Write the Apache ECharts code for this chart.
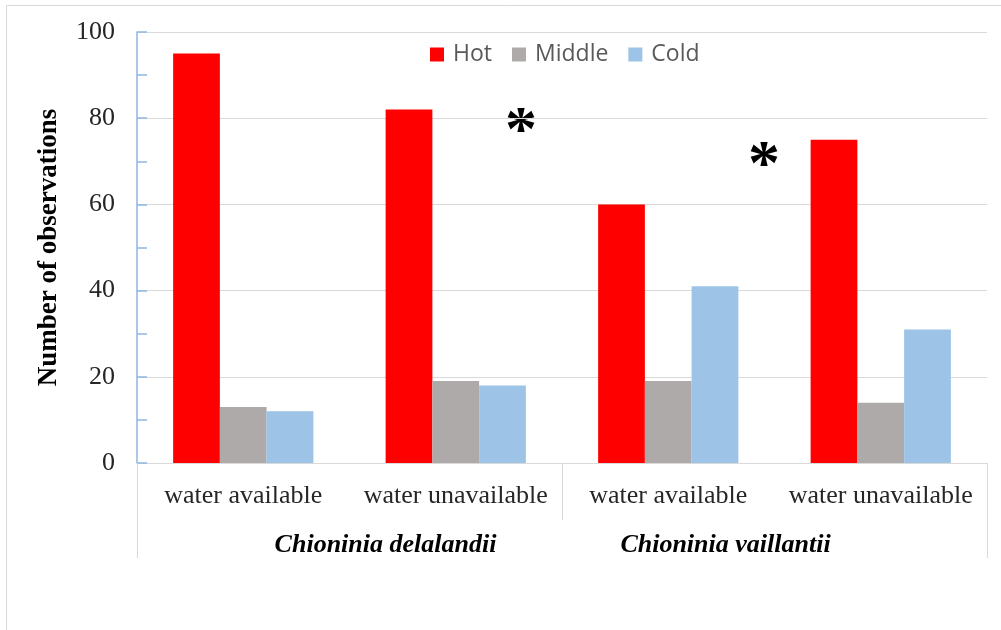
<!DOCTYPE html>
<html>
<head>
<meta charset="utf-8">
<script src="https://cdn.jsdelivr.net/npm/echarts@6/dist/echarts.min.js"></script>
<style>
html,body{margin:0;padding:0;background:#fff;}
#chart{width:1001px;height:630px;}
</style>
</head>
<body>
<div id="chart"></div>
<script>
const categories = ['water available', 'water unavailable', 'water available', 'water unavailable'];
const species = ['Chioninia delalandii', 'Chioninia vaillantii'];
const seriesNames = ['Hot', 'Middle', 'Cold'];
const hotValues = [95, 82, 60, 75];
const middleValues = [13, 19, 19, 14];
const coldValues = [12, 18, 41, 31];
const yTicks = [0, 20, 40, 60, 80, 100];
const yAxisName = 'Number of observations';

const colors = ['#FF0000', '#AEAAAA', '#9DC3E6'];
const serif = '"Liberation Serif", "Times New Roman", serif';

const chart = echarts.init(document.getElementById('chart'));
const values = [hotValues, middleValues, coldValues];

chart.setOption({
  animation: false,
  backgroundColor: '#ffffff',
  grid: { left: 137, right: 14, top: 32, bottom: 167, containLabel: false },
  legend: {
    data: seriesNames,
    left: 425,
    top: 38,
    icon: 'rect',
    itemWidth: 14,
    itemHeight: 14,
    itemGap: 20,
    textStyle: { fontFamily: '"Open Sans", sans-serif', fontSize: 23, color: '#595959', padding: [0, 0, 0, 4] }
  },
  xAxis: [
    {
      type: 'category',
      data: categories,
      position: 'bottom',
      axisLine: { show: true, lineStyle: { color: '#D9D9D9', width: 1 } },
      axisTick: { show: false },
      axisLabel: { interval: 0, margin: 20, fontFamily: serif, fontSize: 26, color: '#262626' }
    },
    {
      type: 'category',
      data: species,
      position: 'bottom',
      axisLine: { show: false },
      axisTick: { show: true, interval: 0, length: 57, lineStyle: { color: '#D9D9D9', width: 1 } },
      axisLabel: {
        interval: 0,
        margin: 69,
        formatter: function (v, i) { return i === 0 ? '{a|' + v + '}' : '{b|' + v + '}'; },
        rich: {
          a: { fontFamily: serif, fontSize: 26, fontWeight: 'bold', fontStyle: 'italic', color: '#000', padding: [0, 0, 0, 72] },
          b: { fontFamily: serif, fontSize: 26, fontWeight: 'bold', fontStyle: 'italic', color: '#000', padding: [0, 98, 0, 0] }
        }
      }
    },
    {
      type: 'category',
      data: [''],
      position: 'bottom',
      axisLine: { show: false },
      axisTick: { show: true, length: 95, lineStyle: { color: '#D9D9D9', width: 1 } },
      axisLabel: { show: false }
    }
  ],
  yAxis: {
    type: 'value',
    min: yTicks[0],
    max: yTicks[yTicks.length - 1],
    interval: 20,
    name: yAxisName,
    nameLocation: 'middle',
    nameGap: 74,
    nameTextStyle: { fontFamily: serif, fontSize: 27, fontWeight: 'bold', color: '#000' },
    axisLine: { show: true, lineStyle: { color: '#8FB6E0', width: 1.5 } },
    axisTick: { show: true, inside: true, length: 10, lineStyle: { color: '#8FB6E0', width: 1.5 } },
    minorTick: { show: true, splitNumber: 2, length: 10, lineStyle: { color: '#8FB6E0', width: 1.5 } },
    splitLine: { show: true, lineStyle: { color: '#D9D9D9', width: 1 } },
    axisLabel: { margin: 22, fontFamily: serif, fontSize: 26, color: '#262626' }
  },
  series: seriesNames.map(function (name, i) {
    return {
      name: name,
      type: 'bar',
      xAxisIndex: 0,
      data: values[i],
      barGap: '0%',
      barCategoryGap: '34%',
      itemStyle: { color: colors[i] }
    };
  }),
  graphic: [
    {
      type: 'rect',
      silent: true,
      shape: { x: 6.5, y: 5.5, width: 1200, height: 800 },
      style: { fill: 'none', stroke: '#D9D9D9', lineWidth: 1 },
      z: -1
    },
    {
      type: 'text',
      left: 505, top: 101,
      style: { text: '*', fontFamily: serif, fontSize: 64, fontWeight: 'bold', fill: '#000' }
    },
    {
      type: 'text',
      left: 748, top: 135,
      style: { text: '*', fontFamily: serif, fontSize: 64, fontWeight: 'bold', fill: '#000' }
    }
  ]
});
</script>
</body>
</html>
